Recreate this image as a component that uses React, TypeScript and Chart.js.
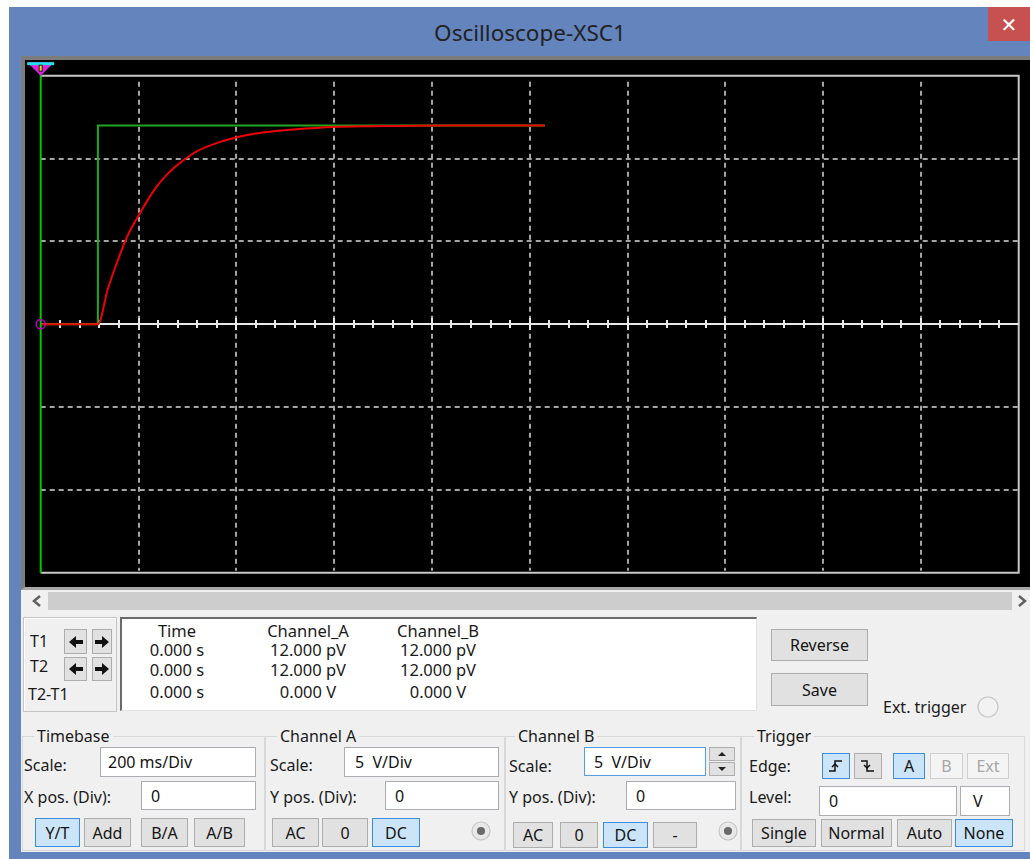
import React, { useEffect, useRef } from "react";
import { Chart, registerables } from "chart.js";

Chart.register(...registerables);

// Channel A (red): RC charging response, seconds / volts
const timeA = [0, 0.117, 0.137, 0.157, 0.177, 0.197, 0.217, 0.237, 0.257, 0.277, 0.297, 0.317, 0.357, 0.397, 0.437, 0.477, 0.517, 0.597, 0.677, 0.817, 1.031];
const voltsA = [0, 0, 2.1, 3.8, 5.3, 6.4, 7.4, 8.3, 9.0, 9.55, 10.0, 10.4, 10.9, 11.25, 11.5, 11.65, 11.75, 11.9, 11.95, 12.0, 12.0];
// Channel B (green): step input
const timeB = [0, 0.117, 0.117, 1.031];
const voltsB = [0, 0, 12, 12];

// screen settings
const timeMin = 0;
const timeMax = 2.0; // 10 div x 200 ms
const timeDiv = 0.2;
const voltMin = -15;
const voltMax = 15; // 6 div x 5 V
const voltDiv = 5;
const cursorTime = 0;

// readout
const readHeaders = ["Time", "Channel_A", "Channel_B"];
const readT1 = ["0.000 s", "12.000 pV", "12.000 pV"];
const readT2 = ["0.000 s", "12.000 pV", "12.000 pV"];
const readDiff = ["0.000 s", "0.000 V", "0.000 V"];

const FONT = '"Noto Sans", "DejaVu Sans", sans-serif';

const scopePlugin = {
  id: "scopeGrid",
  beforeDatasetsDraw(chart: any) {
    const ctx = chart.ctx;
    const { left, right, top, bottom } = chart.chartArea;
    const xs = chart.scales.x;
    const ys = chart.scales.y;
    ctx.save();
    ctx.strokeStyle = "#a4a4a4";
    ctx.lineWidth = 2;
    ctx.setLineDash([5, 4]);
    for (let t = timeMin + timeDiv; t < timeMax - 1e-6; t += timeDiv) {
      const px = Math.round(xs.getPixelForValue(t));
      ctx.beginPath();
      ctx.moveTo(px, top + 6);
      ctx.lineTo(px, bottom - 2);
      ctx.stroke();
    }
    for (let v = voltMin + voltDiv; v < voltMax - 1e-6; v += voltDiv) {
      if (Math.abs(v) < 1e-6) continue;
      const py = Math.round(ys.getPixelForValue(v));
      ctx.beginPath();
      ctx.moveTo(left, py);
      ctx.lineTo(right, py);
      ctx.stroke();
    }
    ctx.setLineDash([]);
    // border
    ctx.strokeStyle = "#c8c8c8";
    ctx.lineWidth = 2;
    ctx.beginPath();
    ctx.moveTo(left, top);
    ctx.lineTo(right, top);
    ctx.lineTo(right, bottom);
    ctx.lineTo(left, bottom);
    ctx.stroke();
    // zero axis with ticks
    const y0 = Math.round(ys.getPixelForValue(0));
    ctx.strokeStyle = "#e8e8e8";
    ctx.beginPath();
    ctx.moveTo(left, y0);
    ctx.lineTo(right, y0);
    ctx.stroke();
    const minor = timeDiv / 5;
    for (let i = 1; i < 50; i++) {
      const px = Math.round(xs.getPixelForValue(timeMin + i * minor));
      const h = i % 5 === 0 ? 6 : 4;
      ctx.beginPath();
      ctx.moveTo(px, y0 - h);
      ctx.lineTo(px, y0 + h);
      ctx.stroke();
    }
    ctx.restore();
  },
  afterDatasetsDraw(chart: any) {
    const ctx = chart.ctx;
    const { top, bottom } = chart.chartArea;
    const xs = chart.scales.x;
    const ys = chart.scales.y;
    const px = xs.getPixelForValue(cursorTime);
    const y0 = ys.getPixelForValue(0);
    ctx.save();
    ctx.strokeStyle = "#00c800";
    ctx.lineWidth = 2;
    ctx.beginPath();
    ctx.moveTo(px, top - 2);
    ctx.lineTo(px, bottom);
    ctx.stroke();
    // marker triangle
    ctx.fillStyle = "#e020e0";
    ctx.beginPath();
    ctx.moveTo(px - 13.5, top - 13.5);
    ctx.lineTo(px + 13.5, top - 13.5);
    ctx.lineTo(px, top);
    ctx.closePath();
    ctx.fill();
    ctx.fillStyle = "#20e0e8";
    ctx.fillRect(px - 13.5, top - 13.5, 27, 3);
    ctx.fillStyle = "#202020";
    ctx.fillRect(px - 2, top - 11, 4, 7);
    ctx.fillStyle = "#f0e000";
    ctx.fillRect(px - 1, top - 10, 2, 5);
    // circle marker
    ctx.strokeStyle = "#c000c0";
    ctx.lineWidth = 1.5;
    ctx.beginPath();
    ctx.arc(px, y0, 4.5, 0, Math.PI * 2);
    ctx.stroke();
    ctx.restore();
  },
};

function ScopeChart() {
  const ref = useRef<HTMLCanvasElement | null>(null);
  useEffect(() => {
    if (!ref.current) return;
    const chart = new Chart(ref.current, {
      type: "line",
      data: {
        datasets: [
          {
            label: "Channel A",
            data: timeA.map((t, i) => ({ x: t, y: voltsA[i] })),
            borderColor: "#f00000",
            borderWidth: 2,
            pointRadius: 0,
            cubicInterpolationMode: "monotone",
          },
          {
            label: "Channel B",
            data: timeB.map((t, i) => ({ x: t, y: voltsB[i] })),
            borderColor: "#1fa81f",
            borderWidth: 2,
            pointRadius: 0,
            tension: 0,
          },
        ],
      },
      options: {
        animation: false,
        responsive: false,
        devicePixelRatio: 1,
        layout: { padding: { left: 15.7, top: 15.7, right: 11.3, bottom: 13.3 } },
        scales: {
          x: { type: "linear", min: timeMin, max: timeMax, display: false },
          y: { type: "linear", min: voltMin, max: voltMax, display: false },
        },
        plugins: { legend: { display: false }, tooltip: { enabled: false } },
      } as any,
      plugins: [scopePlugin],
    });
    return () => chart.destroy();
  }, []);
  return (
    <canvas
      ref={ref}
      width={1005}
      height={526}
      style={{ position: "absolute", left: 25, top: 60, width: 1005, height: 526, display: "block" }}
    />
  );
}

function Txt({ x, y, text, size = 16, color = "#1a1a1a", center = false }: any) {
  const style: any = {
    position: "absolute",
    top: y - 12,
    height: 24,
    lineHeight: "24px",
    fontSize: size,
    color,
    whiteSpace: "pre",
    fontFamily: FONT,
  };
  if (center) {
    style.left = x - 100;
    style.width = 200;
    style.textAlign = "center";
  } else style.left = x;
  return <div style={style}>{text}</div>;
}

function Btn({ x1, x2, y1, y2, label, active = false, disabled = false, children, size = 16 }: any) {
  return (
    <div
      style={{
        position: "absolute",
        left: x1,
        top: y1,
        width: x2 - x1,
        height: y2 - y1,
        boxSizing: "border-box",
        border: `1px solid ${active ? "#3c8ce0" : disabled ? "#cfcfcf" : "#adadad"}`,
        background: active ? "#cce4f7" : disabled ? "#f4f4f4" : "#e1e1e1",
        color: disabled ? "#a6a6a6" : "#141414",
        display: "flex",
        alignItems: "center",
        justifyContent: "center",
        fontSize: size,
        fontFamily: FONT,
      }}
    >
      {children || label}
    </div>
  );
}

function Inp({ x1, x2, y1, y2, text, focus = false, pad = 9 }: any) {
  return (
    <div
      style={{
        position: "absolute",
        left: x1,
        top: y1,
        width: x2 - x1,
        height: y2 - y1,
        boxSizing: "border-box",
        border: `1px solid ${focus ? "#569de5" : "#abadb3"}`,
        background: "#fff",
        paddingLeft: pad,
        display: "flex",
        alignItems: "center",
        fontSize: 16,
        color: "#141414",
        fontFamily: FONT,
        whiteSpace: "pre",
      }}
    >
      {text}
    </div>
  );
}

function Group({ x1, x2, y1, y2, label, lx }: any) {
  return (
    <>
      <div
        style={{
          position: "absolute",
          left: x1,
          top: y1,
          width: x2 - x1,
          height: y2 - y1,
          boxSizing: "border-box",
          border: "1px solid #d8d8d8",
        }}
      />
      <div
        style={{
          position: "absolute",
          left: lx - 3,
          top: y1 - 12,
          height: 24,
          lineHeight: "24px",
          padding: "0 3px",
          background: "#f0f0f0",
          fontSize: 16,
          color: "#1a1a1a",
          fontFamily: FONT,
          whiteSpace: "nowrap",
        }}
      >
        {label}
      </div>
    </>
  );
}

function Radio({ cx, cy, r, dot }: any) {
  return (
    <svg style={{ position: "absolute", left: cx - r - 1, top: cy - r - 1 }} width={2 * r + 2} height={2 * r + 2}>
      <circle cx={r + 1} cy={r + 1} r={r} fill={dot ? "#e8e8e8" : "#f2f2f2"} stroke="#c4c4c4" strokeWidth={1.2} />
      {dot && <circle cx={r + 1} cy={r + 1} r={r * 0.45} fill="#6a6a6a" />}
    </svg>
  );
}

function Arrow({ dir }: any) {
  const pts = dir === "left" ? "2,8 9,2 9,6 16,6 16,10 9,10 9,14" : "16,8 9,2 9,6 2,6 2,10 9,10 9,14";
  return (
    <svg width={18} height={16}>
      <polygon points={pts} fill="#111" />
    </svg>
  );
}

function EdgeIcon({ rising }: any) {
  return (
    <svg width={16} height={16}>
      {rising ? (
        <>
          <polyline points="1,13 7,13 7,3 14,3" fill="none" stroke="#111" strokeWidth={1.5} />
          <polyline points="4,9 7,6 10,9" fill="none" stroke="#111" strokeWidth={1.5} />
        </>
      ) : (
        <>
          <polyline points="1,3 7,3 7,13 14,13" fill="none" stroke="#111" strokeWidth={1.5} />
          <polyline points="4,7 7,10 10,7" fill="none" stroke="#111" strokeWidth={1.5} />
        </>
      )}
    </svg>
  );
}

export default function App() {
  const colX = [177, 308, 438];
  const rowsY = [650, 670, 692];
  return (
    <div
      style={{
        position: "fixed",
        left: 0,
        top: 0,
        width: 1030,
        height: 859,
        background: "#ffffff",
        overflow: "hidden",
        fontFamily: FONT,
      }}
    >
      {/* window frame */}
      <div style={{ position: "absolute", left: 9, top: 7, width: 1021, height: 852, background: "#6484be" }} />
      <Txt x={530} y={33} text="Oscilloscope-XSC1" size={22.5} color="#222222" center />
      <div
        style={{
          position: "absolute",
          left: 988,
          top: 7,
          width: 42,
          height: 34,
          background: "#c75050",
          color: "#fff",
          fontSize: 20,
          fontWeight: "bold",
          display: "flex",
          alignItems: "center",
          justifyContent: "center",
          fontFamily: FONT,
        }}
      >
        ✕
      </div>
      {/* client area */}
      <div style={{ position: "absolute", left: 21, top: 56, width: 1009, height: 796, background: "#f0f0f0" }} />
      {/* screen frame */}
      <div
        style={{
          position: "absolute",
          left: 21,
          top: 56,
          width: 1009,
          height: 534,
          boxSizing: "border-box",
          background: "#000",
          borderTop: "4px solid #7c7c7c",
          borderLeft: "4px solid #7c7c7c",
          borderBottom: "3px solid #a8a8a8",
        }}
      />
      <ScopeChart />
      {/* scrollbar */}
      <div style={{ position: "absolute", left: 48, top: 592, width: 964, height: 18, background: "#cdcdcd" }} />
      <svg style={{ position: "absolute", left: 30, top: 594 }} width={14} height={14}>
        <polyline points="10,2 4,7 10,12" fill="none" stroke="#606060" strokeWidth={2.5} />
      </svg>
      <svg style={{ position: "absolute", left: 1015, top: 594 }} width={14} height={14}>
        <polyline points="4,2 10,7 4,12" fill="none" stroke="#606060" strokeWidth={2.5} />
      </svg>

      {/* cursor buttons box */}
      <div
        style={{
          position: "absolute",
          left: 23,
          top: 617,
          width: 94,
          height: 95,
          boxSizing: "border-box",
          border: "1px solid #c4c4c4",
          boxShadow: "inset 1px 1px 0 #ffffff",
        }}
      />
      <Txt x={30} y={641} text="T1" />
      <Txt x={30} y={666} text="T2" />
      <Txt x={28} y={694} text="T2-T1" />
      <Btn x1={64} x2={87} y1={629} y2={654}>
        <Arrow dir="left" />
      </Btn>
      <Btn x1={92} x2={112} y1={629} y2={654}>
        <Arrow dir="right" />
      </Btn>
      <Btn x1={64} x2={87} y1={657} y2={681}>
        <Arrow dir="left" />
      </Btn>
      <Btn x1={92} x2={112} y1={657} y2={681}>
        <Arrow dir="right" />
      </Btn>

      {/* readout */}
      <div
        style={{
          position: "absolute",
          left: 120,
          top: 617,
          width: 637,
          height: 94,
          boxSizing: "border-box",
          background: "#fff",
          borderTop: "2px solid #6a6a6a",
          borderLeft: "2px solid #6a6a6a",
          borderRight: "1px solid #e2e2e2",
          borderBottom: "1px solid #e2e2e2",
        }}
      />
      {readHeaders.map((h, i) => (
        <Txt key={"h" + i} x={colX[i]} y={631} text={h} size={16.5} center />
      ))}
      {[readT1, readT2, readDiff].map((row, r) =>
        row.map((v, i) => <Txt key={r + "-" + i} x={colX[i]} y={rowsY[r]} text={v} size={16.5} center />)
      )}

      <Btn x1={771} x2={868} y1={629} y2={661} label="Reverse" />
      <Btn x1={771} x2={868} y1={673} y2={706} label="Save" />
      <Txt x={883} y={707} text="Ext. trigger" />
      <Radio cx={988} cy={707} r={10} />

      {/* groups */}
      <Group x1={22} x2={265} y1={736} y2={851} label="Timebase" lx={37} />
      <Group x1={265} x2={505} y1={736} y2={851} label="Channel A" lx={280} />
      <Group x1={505} x2={741} y1={736} y2={851} label="Channel B" lx={518} />
      <Group x1={741} x2={1025} y1={736} y2={851} label="Trigger" lx={757} />

      {/* Timebase */}
      <Txt x={24} y={765} text="Scale:" />
      <Inp x1={100} x2={256} y1={747} y2={777} text="200 ms/Div" pad={7} />
      <Txt x={24} y={797} text="X pos. (Div):" />
      <Inp x1={141} x2={256} y1={781} y2={810} text="0" />
      <Btn x1={35} x2={80} y1={818} y2={847} label="Y/T" active />
      <Btn x1={84} x2={131} y1={818} y2={847} label="Add" />
      <Btn x1={141} x2={188} y1={818} y2={847} label="B/A" />
      <Btn x1={194} x2={245} y1={818} y2={847} label="A/B" />

      {/* Channel A */}
      <Txt x={270} y={765} text="Scale:" />
      <Inp x1={344} x2={499} y1={747} y2={777} text="5  V/Div" pad={10} />
      <Txt x={270} y={797} text="Y pos. (Div):" />
      <Inp x1={385} x2={499} y1={781} y2={810} text="0" />
      <Btn x1={272} x2={319} y1={818} y2={847} label="AC" />
      <Btn x1={322} x2={368} y1={818} y2={847} label="0" />
      <Btn x1={372} x2={420} y1={818} y2={847} label="DC" active />
      <Radio cx={481} cy={831} r={9} dot />

      {/* Channel B */}
      <Txt x={509} y={766} text="Scale:" />
      <Inp x1={584} x2={706} y1={747} y2={776} text="5  V/Div" focus pad={9} />
      <Btn x1={709} x2={735} y1={747} y2={761}>
        <svg width={10} height={6}>
          <polygon points="1,5 5,1 9,5" fill="#222" />
        </svg>
      </Btn>
      <Btn x1={709} x2={735} y1={762} y2={776}>
        <svg width={10} height={6}>
          <polygon points="1,1 5,5 9,1" fill="#222" />
        </svg>
      </Btn>
      <Txt x={509} y={797} text="Y pos. (Div):" />
      <Inp x1={626} x2={736} y1={781} y2={810} text="0" />
      <Btn x1={513} x2={553} y1={822} y2={848} label="AC" />
      <Btn x1={560} x2={598} y1={822} y2={848} label="0" />
      <Btn x1={603} x2={648} y1={822} y2={848} label="DC" active />
      <Btn x1={653} x2={697} y1={822} y2={848} label="-" />
      <Radio cx={728} cy={831} r={9} dot />

      {/* Trigger */}
      <Txt x={749} y={766} text="Edge:" />
      <Btn x1={822} x2={850} y1={753} y2={779} active>
        <EdgeIcon rising />
      </Btn>
      <Btn x1={854} x2={882} y1={753} y2={779}>
        <EdgeIcon />
      </Btn>
      <Btn x1={893} x2={925} y1={753} y2={779} label="A" active />
      <Btn x1={930} x2={963} y1={753} y2={779} label="B" disabled />
      <Btn x1={967} x2={1009} y1={753} y2={779} label="Ext" disabled />
      <Txt x={749} y={797} text="Level:" />
      <Inp x1={819} x2={957} y1={786} y2={816} text="0" />
      <Inp x1={960} x2={1010} y1={786} y2={816} text="V" pad={12} />
      <Btn x1={752} x2={816} y1={819} y2={847} label="Single" />
      <Btn x1={821} x2={892} y1={819} y2={847} label="Normal" />
      <Btn x1={897} x2={952} y1={819} y2={847} label="Auto" />
      <Btn x1={955} x2={1013} y1={819} y2={847} label="None" active />
    </div>
  );
}
